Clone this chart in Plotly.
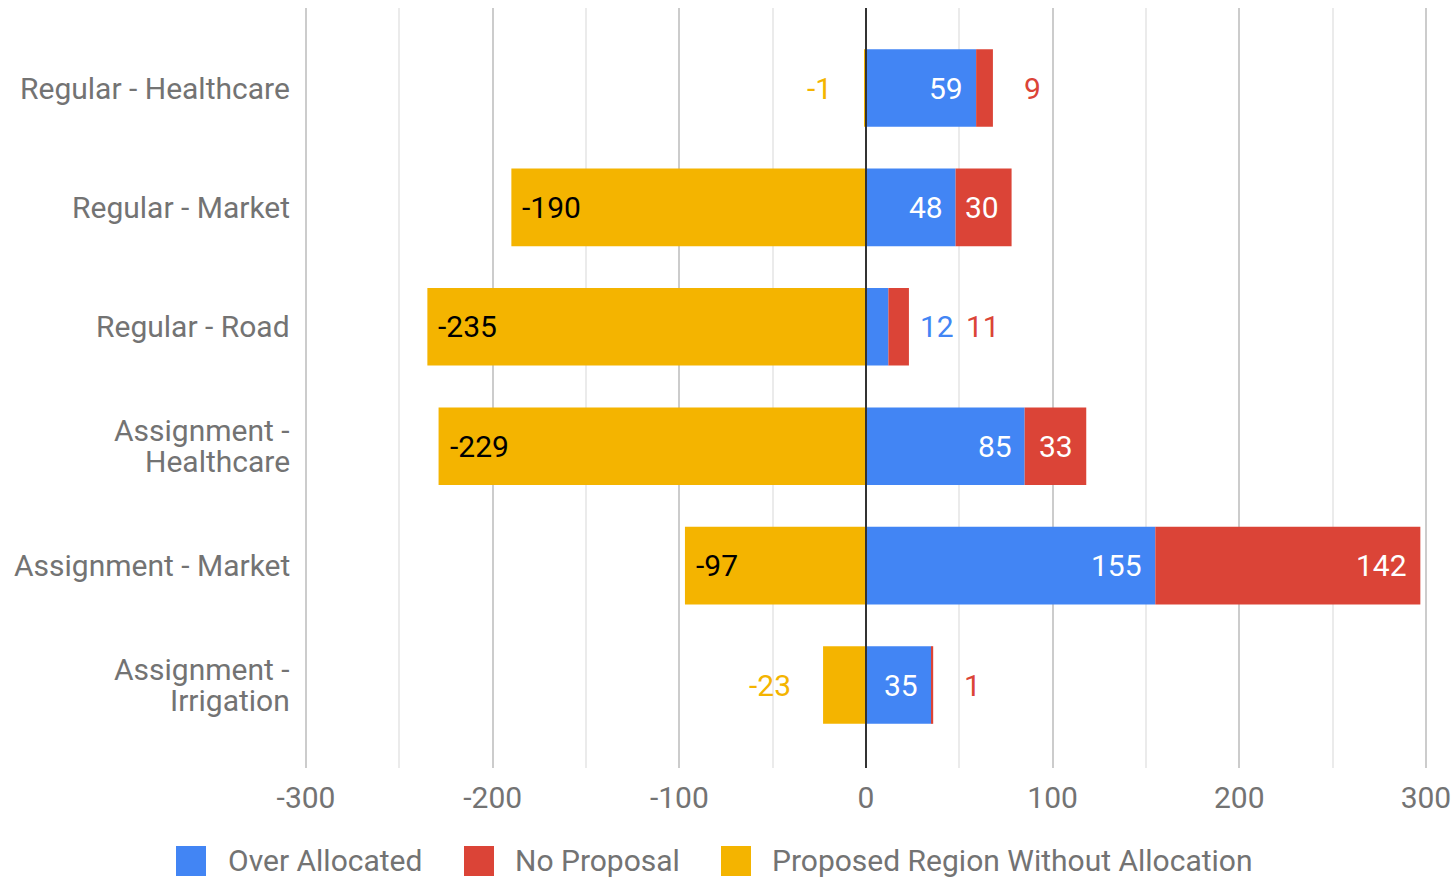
import plotly.graph_objects as go

# ---------------- data ----------------
categories = ["Regular - Healthcare", "Regular - Market", "Regular - Road",
              "Assignment -<br>Healthcare", "Assignment - Market",
              "Assignment -<br>Irrigation"]
over_allocated = [59, 48, 12, 85, 155, 35]
no_proposal = [9, 30, 11, 33, 142, 1]
proposed_without = [-1, -190, -235, -229, -97, -23]
series_names = ["Over Allocated", "No Proposal", "Proposed Region Without Allocation"]
colors = ["#4285F4", "#DB4437", "#F4B400"]
x_ticks = [-300, -200, -100, 0, 100, 200, 300]

# ---------------- layout constants ----------------
W, H = 1455, 878
ML, MR, MT, MB = 304, 27, 8, 110
PW, PH = W - ML - MR, H - MT - MB
XMIN, XMAX = -301.1, 301.1
PXU = PW / (XMAX - XMIN)
FONT = "Roboto"
FS = 30
GRAY = "#737373"
LINE_H = 31


def text_w(s):
    return sum(0.30 if c == "-" else 0.562 for c in s) * FS


def px_x(px):
    return (px - ML) / PW


def px_y(py):
    return (H - MB - py) / PH


fig = go.Figure()
for name, vals, col in zip(series_names,
                           [over_allocated, no_proposal, proposed_without], colors):
    fig.add_trace(go.Bar(
        y=categories, x=vals, orientation="h", name=name,
        marker=dict(color=col, line=dict(width=0)),
        showlegend=False, hovertemplate="%{y}: %{x}<extra>" + name + "</extra>",
    ))

annotations = []

# category labels (right aligned, tight line spacing)
for cat in categories:
    lines = cat.split("<br>")
    n_l = len(lines)
    for k, ln in enumerate(lines):
        annotations.append(dict(x=0, xref="paper", y=cat, yref="y", text=ln,
                                xanchor="right", yanchor="middle", xshift=-12,
                                yshift=((n_l - 1) / 2 - k) * LINE_H, showarrow=False,
                                font=dict(family=FONT, size=FS, color=GRAY)))

# value labels
for i, cat in enumerate(categories):
    b, r, n = over_allocated[i], no_proposal[i], proposed_without[i]
    outside = []
    for val, end, col in [(b, b, colors[0]), (r, b + r, colors[1])]:
        s = str(val)
        if val * PXU >= text_w(s) + 20:
            annotations.append(dict(x=end, y=cat, text=s, xanchor="right", xshift=-11,
                                    showarrow=False, font=dict(family=FONT, size=FS, color="white")))
        else:
            outside.append((s, col))
    off = 29 if len(outside) == 1 else 9
    for s, col in outside:
        annotations.append(dict(x=b + r, y=cat, text=s, xanchor="left", xshift=off,
                                showarrow=False, font=dict(family=FONT, size=FS, color=col)))
        off += text_w(s) + 12
    s = str(n)
    if abs(n) * PXU >= text_w(s) + 20:
        annotations.append(dict(x=n, y=cat, text=s, xanchor="left", xshift=9,
                                showarrow=False, font=dict(family=FONT, size=FS, color="#000000")))
    else:
        annotations.append(dict(x=n, y=cat, text=s, xanchor="right", xshift=-30,
                                showarrow=False, font=dict(family=FONT, size=FS, color=colors[2])))

# manual legend (large swatches)
shapes = []
legend_sq = [176, 464, 721]
legend_tx = [226, 513, 770]
for name, col, sx, tx in zip(series_names, colors, legend_sq, legend_tx):
    shapes.append(dict(type="rect", xref="paper", yref="paper",
                       x0=px_x(sx), x1=px_x(sx + 30), y0=px_y(876), y1=px_y(846),
                       fillcolor=col, line=dict(width=0)))
    annotations.append(dict(x=px_x(tx), y=px_y(860), xref="paper", yref="paper",
                            text=name, xanchor="left", yanchor="middle", showarrow=False,
                            font=dict(family=FONT, size=FS, color=GRAY)))

# zero baseline above bars
shapes.append(dict(type="line", xref="x", yref="paper", x0=0, x1=0, y0=0, y1=1,
                   line=dict(color="#333333", width=2), layer="above"))

fig.update_layout(
    template="none",
    width=W, height=H,
    margin=dict(l=ML, r=MR, t=MT, b=MB, pad=0, autoexpand=False),
    paper_bgcolor="white", plot_bgcolor="white",
    barmode="relative", bargap=0.35,
    font=dict(family=FONT, size=FS, color=GRAY),
    xaxis=dict(range=[XMIN, XMAX], tickmode="array", tickvals=x_ticks,
               ticktext=[str(v) for v in x_ticks], automargin=False,
               showgrid=True, gridcolor="#cccccc", gridwidth=2,
               zeroline=False, showline=False, ticks="",
               ticklabelstandoff=9,
               tickfont=dict(family=FONT, size=FS, color=GRAY),
               minor=dict(dtick=50, tick0=0, showgrid=True, gridcolor="#ebebeb",
                          gridwidth=2, ticks="")),
    yaxis=dict(type="category", categoryorder="array", categoryarray=categories,
               range=[5.695, -0.67], showgrid=False, zeroline=False, showline=False,
               ticks="", showticklabels=False, automargin=False),
    shapes=shapes,
    annotations=annotations,
    showlegend=False,
)

fig.write_html("out.html", config={"displayModeBar": False},
               post_script="document.body.style.margin='0';document.body.style.padding='0';")
